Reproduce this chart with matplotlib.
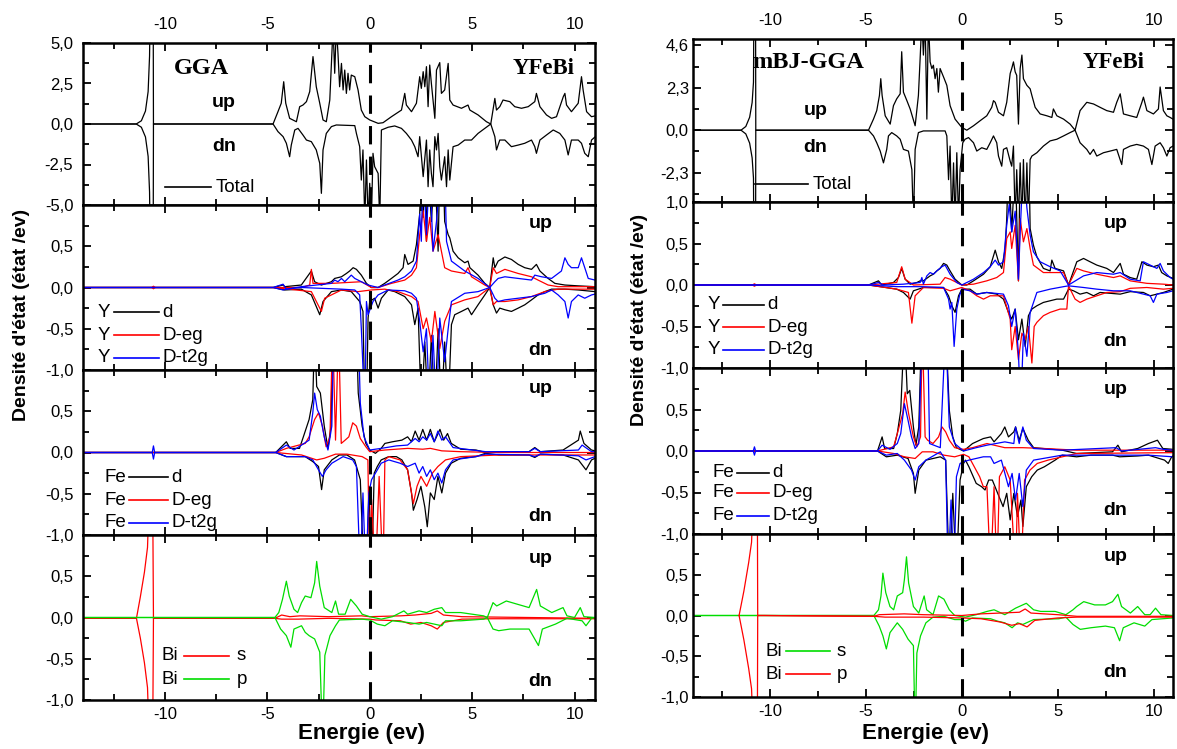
import numpy as np
import matplotlib.pyplot as plt
from matplotlib.ticker import FixedLocator, FuncFormatter

plt.rcParams['font.family'] = ['Liberation Sans', 'DejaVu Sans']
plt.rcParams['axes.unicode_minus'] = False

# ---------------- data : (energy in eV, DOS), spin down stored negative ----------------
# GGA total
gga_tot_up = [(-14, 0), (-11.4, 0), (-11.15, 0.2), (-10.95, 0.8), (-10.82, 2.0), (-10.75, 4.2), (-10.68, 12),
              (-10.58, 12), (-10.56, 0), (-4.72, 0), (-4.48, 0.76), (-4.32, 1.28), (-4.20, 2.61), (-4.10, 1.28),
              (-3.91, 0.35), (-3.58, 0.14), (-3.42, 1.07), (-3.26, 1.17), (-3.09, 1.38), (-2.93, 2.0), (-2.77, 4.16),
              (-2.61, 2.3), (-2.44, 1.28), (-2.28, 0.25), (-2.12, 0.14), (-1.95, 1.48), (-1.79, 6), (-1.71, 3.13),
              (-1.63, 6), (-1.55, 4.36), (-1.47, 2.3), (-1.38, 3.74), (-1.30, 2.1), (-1.22, 3.33), (-1.14, 1.89),
              (-1.06, 3.13), (-0.98, 2.1), (-0.90, 3.02), (-0.73, 2.92), (-0.57, 2.1), (-0.41, 0.86), (-0.24, 0.45),
              (0, 0.25), (0.41, 0.04), (0.65, 0.08), (1.06, 0.45), (1.55, 0.86), (1.71, 1.89), (1.79, 1.17),
              (2.04, 0.76), (2.28, 1.28), (2.44, 2.92), (2.52, 2.2), (2.61, 3.23), (2.69, 2.3), (2.77, 3.54),
              (2.85, 1.07), (2.93, 3.64), (3.01, 2.51), (3.18, 0.35), (3.26, 3.33), (3.42, 3.79), (3.50, 1.89),
              (3.66, 2.1), (3.83, 3.74), (3.91, 1.48), (4.07, 1.17), (4.48, 0.97), (4.80, 1.17), (4.89, 0.86),
              (5.29, 0.56), (5.70, 0.14), (5.91, 0.0), (6.11, 1.58), (6.19, 0.86), (6.35, 1.07), (6.51, 1.48),
              (6.84, 1.38), (7.08, 1.07), (7.41, 0.97), (7.74, 1.07), (8.06, 1.38), (8.14, 1.89), (8.31, 1.07),
              (8.63, 0.56), (8.88, 0.35), (9.12, 0.45), (9.45, 1.68), (9.53, 1.89), (9.61, 1.17), (9.85, 0.76),
              (10.18, 1.28), (10.34, 2.92), (10.42, 2.1), (10.59, 0.76), (10.83, 0.45), (11, 0.5)]
gga_tot_dn = [(-14, 0), (-11.4, 0), (-11.15, -0.2), (-10.95, -0.8), (-10.82, -2.0), (-10.75, -4.2), (-10.68, -12),
              (-10.58, -12), (-10.56, 0), (-4.72, 0), (-4.48, -0.47), (-4.23, -0.78), (-4.07, -1.19), (-3.91, -2.02),
              (-3.83, -1.3), (-3.66, -0.37), (-3.50, -0.27), (-3.26, -0.68), (-3.09, -0.99), (-2.85, -1.09),
              (-2.61, -1.6), (-2.44, -2.43), (-2.36, -4.28), (-2.28, -1.6), (-2.12, -0.58), (-1.87, -0.16),
              (-1.63, -0.06), (-0.73, -0.1), (-0.65, -0.58), (-0.49, -1.4), (-0.41, -3.46), (-0.33, -1.6),
              (-0.24, -6), (-0.16, -2.22), (-0.08, -6), (0, -3.66), (0.08, -6), (0.16, -1.81), (0.24, -2.63),
              (0.41, -3.05), (0.49, -6), (0.57, -0.37), (0.90, -0.2), (1.22, -0.12), (1.55, -0.27), (1.79, -0.58),
              (2.04, -0.99), (2.20, -1.4), (2.36, -2.02), (2.44, -0.78), (2.61, -3.25), (2.77, -0.99), (2.85, -3.87),
              (2.93, -1.6), (3.01, -3.05), (3.09, -3.87), (3.18, -0.78), (3.26, -1.6), (3.34, -0.58), (3.42, -2.63),
              (3.50, -3.46), (3.66, -2.02), (3.75, -3.87), (3.83, -1.6), (3.91, -3.46), (4.07, -1.4), (4.32, -1.3),
              (4.64, -0.99), (4.97, -0.99), (5.29, -0.58), (5.62, -0.27), (5.91, 0), (6.11, -0.78), (6.19, -1.6),
              (6.35, -0.99), (6.60, -0.99), (6.92, -1.4), (7.25, -1.3), (7.57, -1.19), (7.90, -0.99), (8.06, -1.4),
              (8.14, -1.81), (8.31, -0.99), (8.63, -0.68), (8.96, -0.37), (9.28, -0.58), (9.53, -0.99),
              (9.69, -1.91), (9.85, -0.99), (10.18, -0.99), (10.34, -1.19), (10.50, -1.81), (10.67, -2.02),
              (10.83, -0.99), (11, -0.8)]

# GGA Y
gga_y_d_up = [(-14, 0), (-4.72, 0), (-4.23, 0.03), (-4.15, 0.01), (-3.34, 0.03), (-2.85, 0.2), (-2.69, 0.07),
              (-2.36, 0.03), (-1.87, 0.07), (-1.71, 0.11), (-1.38, 0.13), (-1.14, 0.17), (-0.98, 0.2), (-0.81, 0.24),
              (-0.65, 0.22), (-0.41, 0.15), (-0.16, 0.05), (0.08, 0), (0.41, 0), (0.73, 0.05), (1.06, 0.11),
              (1.38, 0.17), (1.63, 0.24), (1.71, 0.4), (1.87, 0.28), (2.12, 0.32), (2.28, 0.52), (2.44, 0.89),
              (2.52, 1.5), (2.61, 0.85), (2.69, 1.5), (2.77, 0.56), (2.85, 1.5), (3.01, 0.8), (3.18, 1.5),
              (3.34, 0.44), (3.42, 1.5), (3.58, 1.5), (3.66, 0.8), (3.83, 0.64), (3.91, 0.6), (4.07, 0.44),
              (4.32, 0.36), (4.64, 0.3), (4.80, 0.32), (4.89, 0.24), (5.29, 0.15), (5.62, 0.05), (5.86, 0),
              (6.03, 0.36), (6.11, 0.24), (6.27, 0.32), (6.60, 0.37), (6.92, 0.34), (7.25, 0.28), (7.57, 0.24),
              (7.90, 0.22), (8.14, 0.28), (8.31, 0.2), (8.71, 0.11), (9.04, 0.05), (9.53, 0.03), (10.18, 0.02),
              (11, 0.01)]
gga_y_d_dn = [(-14, 0), (-4.72, 0), (-4.15, -0.03), (-3.34, -0.02), (-2.85, -0.09), (-2.44, -0.33), (-2.28, -0.17),
              (-1.87, -0.05), (-1.38, -0.03), (-0.90, -0.05), (-0.49, -0.17), (-0.33, -0.29), (-0.24, -1.5),
              (-0.16, -1.5), (-0.08, -0.37), (0, -0.17), (0.24, -0.13), (0.41, -0.25), (0.57, -0.13), (0.90, -0.03),
              (1.22, -0.05), (1.71, -0.11), (2.04, -0.21), (2.20, -0.45), (2.36, -0.25), (2.52, -1.5), (2.69, -0.66),
              (2.85, -1.5), (3.01, -0.58), (3.18, -1.5), (3.34, -0.5), (3.50, -1.5), (3.66, -0.66), (3.83, -1.5),
              (3.99, -0.45), (4.15, -0.33), (4.48, -0.29), (4.80, -0.25), (4.97, -0.33), (5.29, -0.21),
              (5.62, -0.09), (5.86, 0), (6.03, -0.21), (6.19, -0.31), (6.35, -0.25), (6.60, -0.27), (6.92, -0.29),
              (7.25, -0.25), (7.57, -0.21), (7.90, -0.15), (8.22, -0.09), (8.55, -0.05), (8.88, -0.02),
              (9.53, -0.02), (10.18, -0.03), (11, -0.05)]
gga_y_eg_up = [(-14, 0), (-10.65, 0), (-10.56, 0.015), (-10.47, 0), (-4.72, 0), (-3.34, 0), (-2.93, 0.03),
               (-2.85, 0.22), (-2.77, 0.05), (-1.87, 0.05), (-0.41, 0.07), (0.08, 0), (0.41, 0), (1.06, 0.05),
               (1.71, 0.09), (2.04, 0.15), (2.28, 0.24), (2.44, 0.64), (2.61, 0.93), (2.77, 0.56), (2.93, 0.85),
               (3.09, 0.44), (3.34, 0.64), (3.66, 0.24), (3.99, 0.2), (4.64, 0.17), (4.80, 0.24), (4.97, 0.13),
               (5.62, 0.03), (5.86, 0), (6.03, 0.24), (6.19, 0.17), (6.60, 0.22), (7.25, 0.17), (7.90, 0.13),
               (8.22, 0.09), (8.71, 0.03), (9.20, 0.01), (11, 0.01)]
gga_y_eg_dn = [(-14, 0), (-10.65, 0), (-10.56, -0.015), (-10.47, 0), (-4.72, 0), (-2.85, -0.05), (-2.36, -0.29),
               (-2.20, -0.13), (-1.38, -0.03), (-0.57, -0.05), (0.08, -0.03), (0.73, -0.02), (1.38, -0.05),
               (2.04, -0.11), (2.36, -0.17), (2.61, -0.5), (2.77, -0.37), (3.01, -0.66), (3.18, -0.29),
               (3.42, -0.74), (3.66, -0.41), (3.99, -0.21), (4.64, -0.15), (5.29, -0.11), (5.86, 0), (6.03, -0.21),
               (6.19, -0.17), (6.60, -0.17), (7.25, -0.15), (7.90, -0.11), (8.55, -0.05), (9.20, -0.02),
               (11, -0.02)]
gga_y_t2g_up = [(-14, 0), (-4.72, 0), (-4.23, 0.04), (-4.07, -0.02), (-3.34, 0.01), (-1.87, 0.05), (-1.71, 0.09),
                (-1.55, 0.07), (-1.38, 0.11), (-1.22, 0.07), (-1.06, 0.11), (-0.90, 0.15), (-0.73, 0.11),
                (-0.41, 0.07), (-0.08, 0.03), (0.41, 0), (0.73, 0.03), (1.38, 0.09), (1.71, 0.13), (2.04, 0.2),
                (2.28, 0.32), (2.44, 0.89), (2.52, 0.56), (2.61, 1.5), (2.77, 0.64), (2.93, 1.5), (3.09, 0.44),
                (3.26, 0.8), (3.50, 1.5), (3.66, 1.5), (3.75, 0.56), (3.99, 0.32), (4.64, 0.2), (5.29, 0.11),
                (5.86, 0), (6.11, 0.07), (6.27, 0.11), (6.60, 0.13), (7.25, 0.11), (7.90, 0.09), (8.06, 0.15),
                (8.39, 0.13), (8.88, 0.11), (9.36, 0.2), (9.53, 0.36), (9.69, 0.28), (9.85, 0.24), (10.18, 0.24),
                (10.34, 0.36), (10.50, 0.24), (10.67, 0.11), (11, 0.09)]
gga_y_t2g_dn = [(-14, 0), (-4.72, 0), (-4.23, -0.03), (-4.07, -0.02), (-3.34, 0), (-1.38, -0.02), (-0.73, -0.03),
                (-0.49, -0.09), (-0.41, -0.5), (-0.24, -1.5), (-0.16, -0.17), (-0.08, -0.33), (0.16, -0.17),
                (0.41, -0.09), (0.90, -0.03), (1.71, -0.04), (2.04, -0.07), (2.28, -0.13), (2.44, -0.41),
                (2.61, -0.78), (2.77, -0.5), (2.93, -1.5), (3.09, -0.58), (3.26, -1.5), (3.42, -0.37), (3.66, -0.9),
                (3.83, -0.5), (3.99, -0.17), (4.64, -0.07), (5.29, -0.05), (5.86, 0), (6.11, -0.13), (6.27, -0.17),
                (6.60, -0.15), (7.25, -0.13), (7.90, -0.11), (8.22, -0.09), (8.55, -0.07), (8.88, -0.03),
                (9.20, -0.09), (9.53, -0.17), (9.69, -0.37), (9.85, -0.17), (10.18, -0.09), (10.50, -0.13),
                (10.83, -0.09), (11, -0.08)]

# GGA Fe
gga_fe_d_up = [(-14, 0), (-4.59, 0), (-4.07, 0.13), (-3.89, 0.05), (-3.43, 0.05), (-3.24, 0.19), (-2.96, 0.4),
               (-2.78, 0.64), (-2.69, 1.5), (-2.59, 0.8), (-2.41, 0.72), (-2.22, 0.32), (-2.04, 0.05), (-1.89, 0.32),
               (-1.81, 1.5), (-0.65, 1.5), (-0.56, 0.72), (-0.37, 0.32), (-0.19, 0.11), (0, 0.03), (0.28, -0.01),
               (0.56, 0.05), (0.74, 0.11), (1.11, 0.13), (1.57, 0.15), (1.85, 0.19), (2.04, 0.13), (2.22, 0.26),
               (2.41, 0.15), (2.59, 0.28), (2.78, 0.15), (2.96, 0.28), (3.15, 0.13), (3.43, 0.28), (3.61, 0.15),
               (3.80, 0.23), (3.98, 0.11), (4.44, 0.04), (5.19, 0.03), (5.65, 0), (6.30, 0.01), (7.78, 0.01),
               (8.06, 0.06), (8.33, 0.01), (9.44, 0.03), (10.19, 0.15), (10.28, 0.26), (10.46, 0.11), (10.83, 0.03),
               (11, 0.02)]
gga_fe_d_dn = [(-14, 0), (-4.59, 0), (-4.07, -0.05), (-3.15, -0.05), (-2.78, -0.11), (-2.50, -0.17), (-2.35, -0.45),
               (-2.22, -0.21), (-1.85, -0.09), (-1.48, -0.03), (-1.11, -0.03), (-0.74, -0.09), (-0.46, -0.33),
               (-0.28, -1.5), (-0.15, -1.5), (-0.04, -0.41), (0.09, -1.5), (0.22, -0.25), (0.37, -0.17),
               (0.56, -0.09), (0.93, -0.05), (1.30, -0.05), (1.57, -0.09), (1.85, -0.21), (2.04, -0.49),
               (2.13, -0.7), (2.31, -0.57), (2.50, -0.41), (2.69, -0.66), (2.81, -0.9), (2.96, -0.49), (3.15, -0.57),
               (3.33, -0.29), (3.52, -0.49), (3.70, -0.25), (3.98, -0.13), (4.44, -0.07), (5.19, -0.05),
               (5.65, -0.01), (6.30, -0.03), (7.78, -0.03), (8.06, -0.06), (8.33, -0.02), (9.44, -0.03),
               (10.19, -0.09), (10.56, -0.21), (10.83, -0.09), (11, -0.07)]
gga_fe_eg_up = [(-14, 0), (-4.59, 0), (-4.07, 0.05), (-3.15, 0.11), (-2.96, 0.19), (-2.69, 0.4), (-2.50, 0.48),
                (-2.31, 0.32), (-2.13, 0.07), (-1.94, 0.19), (-1.81, 1.5), (-1.67, 0.15), (-1.52, 1.5), (-1.39, 0.11),
                (-1.20, 0.15), (-1.02, 0.19), (-0.83, 0.36), (-0.65, 0.32), (-0.46, 0.17), (-0.19, 0.07), (0, 0.01),
                (0.74, 0.03), (1.85, 0.05), (2.59, 0.04), (2.96, 0.05), (3.52, 0.02), (4.44, 0.01), (6.30, 0),
                (11, 0)]
gga_fe_eg_dn = [(-14, 0), (-4.59, 0), (-3.33, -0.03), (-2.59, -0.09), (-2.22, -0.07), (-1.67, -0.02), (-1.11, -0.02),
                (-0.37, -0.05), (-0.09, -0.09), (0, -1.5), (0.09, -0.57), (0.28, -1.5), (0.46, -0.29), (0.65, -1.5),
                (0.74, -0.09), (0.93, -0.05), (1.48, -0.09), (1.85, -0.21), (2.04, -0.49), (2.13, -0.62),
                (2.31, -0.41), (2.50, -0.29), (2.78, -0.41), (3.06, -0.25), (3.33, -0.17), (3.70, -0.09),
                (4.44, -0.05), (6.30, -0.03), (11, -0.03)]
gga_fe_t2g_up = [(-14, 0), (-10.62, 0), (-10.56, 0.08), (-10.5, 0), (-4.59, 0), (-4.07, 0.09), (-3.70, 0.03),
                 (-2.96, 0.15), (-2.78, 0.48), (-2.69, 0.72), (-2.56, 0.52), (-2.41, 0.44), (-2.22, 0.19),
                 (-2.04, 0.03), (-1.85, 0.32), (-1.76, 1.5), (-0.56, 1.5), (-0.46, 0.6), (-0.28, 0.19), (0, 0.03),
                 (0.56, 0.05), (1.30, 0.08), (1.85, 0.09), (2.22, 0.17), (2.41, 0.13), (2.59, 0.19), (2.78, 0.15),
                 (2.96, 0.23), (3.15, 0.13), (3.33, 0.26), (3.52, 0.15), (3.70, 0.19), (4.07, 0.06), (5.65, 0.01),
                 (7.78, 0.01), (8.06, 0.05), (8.33, 0.01), (10.19, 0.03), (10.37, 0.09), (10.83, 0.01), (11, 0.01)]
gga_fe_t2g_dn = [(-14, 0), (-10.62, 0), (-10.56, -0.08), (-10.5, 0), (-4.59, 0), (-4.07, -0.05), (-3.15, -0.05),
                 (-2.78, -0.09), (-2.50, -0.21), (-2.31, -0.29), (-2.13, -0.21), (-1.85, -0.13), (-1.30, -0.05),
                 (-0.83, -0.09), (-0.65, -0.17), (-0.46, -1.5), (-0.33, -0.49), (-0.19, -1.5), (-0.04, -0.49),
                 (0.09, -0.33), (0.28, -0.25), (0.56, -0.13), (0.93, -0.09), (1.48, -0.13), (1.85, -0.17),
                 (2.22, -0.13), (2.41, -0.25), (2.59, -0.17), (2.78, -0.29), (2.96, -0.21), (3.15, -0.33),
                 (3.33, -0.25), (3.52, -0.37), (3.70, -0.21), (4.07, -0.09), (5.19, -0.05), (5.65, -0.02),
                 (7.78, -0.03), (8.06, -0.05), (8.33, -0.02), (10.19, -0.04), (10.56, -0.09), (11, -0.05)]

# GGA Bi
gga_bi_s_up = [(-14, -0.01), (-11.39, -0.01), (-11.2, 0.25), (-11.0, 0.55), (-10.85, 0.85), (-10.75, 1.6),
               (-10.6, 1.6), (-10.56, -0.01), (-4.63, -0.01), (-4.3, 0.03), (-3.9, 0.01), (-3.4, 0.02), (-2.0, 0.01),
               (-0.4, 0.02), (0, 0.01), (1.5, 0.02), (2.2, 0.03), (3.0, 0.05), (3.3, 0.08), (3.6, 0.03), (4.5, 0.01),
               (11, -0.01)]
gga_bi_s_dn = [(-14, -0.01), (-11.39, -0.01), (-11.2, -0.25), (-11.0, -0.55), (-10.85, -0.85), (-10.75, -1.6),
               (-10.6, -1.6), (-10.56, -0.01), (-4.63, -0.01), (-4.3, -0.02), (-3.5, -0.02), (-2.0, -0.01),
               (0, -0.02), (0.3, -0.03), (1.5, -0.04), (2.0, -0.08), (2.5, -0.06), (3.0, -0.1), (3.3, -0.14),
               (3.6, -0.06), (4.5, -0.02), (6, -0.015), (11, -0.015)]
gga_bi_p_up = [(-14, 0), (-4.63, 0), (-4.44, 0.06), (-4.26, 0.22), (-4.07, 0.44), (-3.93, 0.26), (-3.70, 0.1),
               (-3.52, 0.06), (-3.33, 0.18), (-3.15, 0.26), (-2.87, 0.24), (-2.69, 0.42), (-2.59, 0.68),
               (-2.44, 0.38), (-2.22, 0.12), (-1.85, 0.06), (-1.67, 0.2), (-1.52, 0.04), (-1.20, 0.04),
               (-0.93, 0.22), (-0.65, 0.14), (-0.37, 0.04), (0, 0.01), (0.56, -0.02), (1.11, 0.01), (1.67, 0.08),
               (1.85, 0.04), (2.41, 0.08), (2.78, 0.06), (3.15, 0.1), (3.52, 0.12), (3.70, 0.06), (4.44, 0.06),
               (5.56, 0.02), (5.74, 0), (6.02, 0.18), (6.20, 0.14), (6.67, 0.2), (7.22, 0.16), (7.78, 0.12),
               (8.15, 0.34), (8.33, 0.14), (8.89, 0.06), (9.44, 0.12), (9.63, 0.02), (10.0, 0), (10.28, 0.12),
               (10.46, 0.01), (11, 0)]
gga_bi_p_dn = [(-14, 0), (-4.63, 0), (-4.35, -0.14), (-4.07, -0.22), (-3.85, -0.36), (-3.70, -0.14), (-3.33, -0.1),
               (-3.15, -0.18), (-2.96, -0.22), (-2.69, -0.26), (-2.44, -0.42), (-2.30, -1.5), (-2.19, -0.46),
               (-1.94, -0.22), (-1.67, -0.1), (-1.48, -0.03), (-0.37, -0.02), (0, -0.03), (0.37, -0.08),
               (0.74, -0.1), (1.11, -0.04), (1.85, -0.06), (2.41, -0.08), (2.78, -0.06), (3.52, -0.1),
               (3.70, -0.04), (4.44, -0.04), (5.56, -0.02), (5.74, 0), (6.02, -0.14), (6.30, -0.16), (6.85, -0.14),
               (7.78, -0.14), (8.24, -0.34), (8.43, -0.14), (9.07, -0.08), (9.63, -0.01), (10.37, -0.04),
               (10.56, -0.1), (10.83, -0.01), (11, 0)]

# mBJ-GGA total
mbj_tot_up = [(-14, 0), (-11.5, 0), (-11.25, 0.2), (-11.05, 0.7), (-10.92, 1.5), (-10.85, 2.6), (-10.8, 12),
              (-10.75, 12), (-10.73, 0), (-4.86, 0), (-4.60, 0.6), (-4.43, 1.06), (-4.29, 1.88), (-4.22, 2.79),
              (-4.15, 1.88), (-3.99, 0.78), (-3.73, 0.33), (-3.56, 1.33), (-3.39, 1.7), (-3.21, 1.97), (-3.13, 4.25),
              (-3.04, 2.06), (-2.86, 1.6), (-2.69, 1.15), (-2.43, 0.24), (-2.26, 1.88), (-2.17, 3.89), (-2.08, 6),
              (-2.0, 4.07), (-1.91, 6), (-1.82, 0.6), (-1.74, 6), (-1.65, 3.7), (-1.56, 3.34), (-1.48, 3.52),
              (-1.39, 2.79), (-1.30, 3.34), (-1.22, 2.06), (-1.13, 3.34), (-0.95, 2.88), (-0.78, 2.43),
              (-0.61, 1.33), (-0.35, 0.6), (0, 0.15), (0.26, 0.0), (0.61, 0.24), (0.95, 0.51), (1.30, 0.78),
              (1.56, 1.24), (1.65, 1.6), (1.74, 1.51), (1.91, 0.97), (2.17, 0.78), (2.34, 1.51), (2.52, 3.07),
              (2.60, 3.34), (2.69, 3.7), (2.78, 3.16), (2.86, 2.97), (2.95, 0.33), (3.04, 3.34), (3.13, 4.07),
              (3.21, 2.79), (3.39, 2.43), (3.56, 2.24), (3.65, 1.88), (3.82, 1.24), (4.08, 0.88), (4.43, 0.78),
              (4.69, 0.69), (4.77, 1.15), (4.95, 0.78), (5.30, 0.6), (5.64, 0.33), (5.90, 0), (6.16, 1.06),
              (6.51, 1.51), (6.86, 1.42), (7.20, 1.24), (7.55, 1.06), (7.90, 0.97), (8.07, 1.51), (8.25, 1.97),
              (8.42, 0.88), (8.77, 0.78), (9.11, 0.69), (9.38, 1.51), (9.46, 1.79), (9.64, 1.06), (9.98, 0.88),
              (10.24, 1.15), (10.33, 2.34), (10.50, 1.06), (10.68, 0.78), (10.85, 0.69), (11, 0.6)]
mbj_tot_dn = [(-14, 0), (-11.5, 0), (-11.25, -0.2), (-11.05, -0.7), (-10.92, -1.5), (-10.85, -2.6), (-10.8, -12),
              (-10.75, -12), (-10.73, 0), (-4.86, 0), (-4.60, -0.31), (-4.43, -0.68), (-4.25, -1.13), (-4.08, -1.77),
              (-3.91, -1.04), (-3.82, -0.31), (-3.65, -0.13), (-3.39, -0.31), (-3.21, -0.49), (-3.04, -1.04),
              (-2.78, -1.13), (-2.60, -2.14), (-2.52, -5), (-2.43, -1.04), (-2.26, -0.13), (-2.0, -0.04),
              (-0.87, -0.04), (-0.78, -0.31), (-0.69, -2.68), (-0.61, -0.86), (-0.52, -5), (-0.43, -1.77),
              (-0.35, -5), (-0.26, -1.22), (-0.17, -5), (-0.09, -2.14), (0.05, -0.68), (0.17, -0.49), (0.35, -0.4),
              (0.61, -0.68), (0.78, -1.13), (1.04, -0.95), (1.30, -1.04), (1.48, -0.68), (1.65, -0.31),
              (1.82, -0.68), (1.91, -1.4), (2.08, -1.95), (2.17, -1.04), (2.34, -0.95), (2.52, -1.68), (2.60, -1.95),
              (2.69, -0.86), (2.78, -5), (2.86, -2.14), (2.95, -5), (3.04, -1.77), (3.13, -5), (3.21, -1.59),
              (3.30, -5), (3.39, -1.77), (3.47, -5), (3.56, -1.59), (3.65, -1.4), (3.91, -1.22), (4.25, -0.86),
              (4.60, -0.58), (4.95, -0.49), (5.30, -0.31), (5.64, -0.13), (5.90, 0.0), (6.16, -0.68), (6.51, -1.04),
              (6.68, -1.31), (6.86, -1.04), (7.03, -1.4), (7.38, -1.22), (7.73, -1.13), (8.07, -1.04),
              (8.33, -1.86), (8.42, -1.04), (8.77, -0.86), (9.11, -0.77), (9.46, -0.86), (9.72, -1.04),
              (9.90, -1.86), (10.07, -0.86), (10.33, -0.68), (10.50, -0.95), (10.68, -1.4), (10.85, -0.95),
              (11, -0.86)]

# mBJ-GGA Y
mbj_y_d_up = [(-14, 0), (-4.86, 0), (-4.34, 0.05), (-4.17, 0), (-3.56, 0.03), (-3.30, 0.09), (-3.13, 0.2),
              (-2.95, 0.07), (-2.69, 0.01), (-2.34, 0.03), (-2.17, 0.05), (-2.0, 0.05), (-1.65, 0.11), (-1.48, 0.13),
              (-1.30, 0.17), (-1.13, 0.2), (-0.95, 0.26), (-0.78, 0.24), (-0.61, 0.17), (-0.35, 0.07), (0, 0),
              (0.26, 0), (0.61, 0.05), (1.13, 0.13), (1.48, 0.22), (1.74, 0.42), (1.91, 0.28), (2.08, 0.2),
              (2.26, 0.44), (2.34, 0.8), (2.43, 1.5), (2.60, 0.64), (2.78, 1.5), (2.95, 0.05), (3.04, 1.5),
              (3.50, 1.5), (3.56, 0.68), (3.73, 0.48), (3.91, 0.34), (4.25, 0.2), (4.60, 0.17), (4.69, 0.3),
              (4.86, 0.2), (5.30, 0.17), (5.56, 0), (5.99, 0.28), (6.34, 0.32), (6.68, 0.28), (7.03, 0.24),
              (7.55, 0.2), (7.90, 0.15), (8.25, 0.26), (8.42, 0.13), (8.77, 0.09), (9.11, 0.07), (9.38, 0.28),
              (9.64, 0.24), (9.98, 0.22), (10.24, 0.24), (10.41, 0.15), (10.68, 0.11), (11, 0.08)]
mbj_y_d_dn = [(-14, 0), (-4.86, 0), (-4.25, -0.02), (-3.39, -0.05), (-3.04, -0.09), (-2.69, -0.17), (-2.52, -0.07),
              (-2.0, -0.03), (-0.95, -0.03), (-0.69, -0.13), (-0.52, -0.25), (-0.35, -0.33), (-0.17, -0.13),
              (0, -0.05), (0.43, -0.05), (0.78, -0.11), (1.30, -0.09), (1.82, -0.11), (2.17, -0.17), (2.43, -0.33),
              (2.60, -0.41), (2.78, -0.29), (2.95, -0.66), (3.13, -0.41), (3.30, -0.74), (3.47, -0.37),
              (3.65, -0.29), (3.91, -0.25), (4.25, -0.21), (4.60, -0.19), (4.95, -0.17), (5.30, -0.17),
              (5.56, -0.05), (5.82, -0.07), (6.16, -0.11), (6.51, -0.09), (6.86, -0.13), (7.20, -0.09),
              (7.73, -0.1), (8.25, -0.11), (8.77, -0.08), (9.46, -0.09), (9.81, -0.13), (10.16, -0.11),
              (10.50, -0.09), (11, -0.05)]
mbj_y_eg_up = [(-14, 0), (-10.9, 0), (-10.8, 0.015), (-10.7, 0), (-4.86, 0), (-3.39, 0.03), (-3.13, 0.22),
               (-2.95, 0.07), (-2.52, 0), (-1.13, 0.01), (-0.87, 0.09), (-0.61, 0.07), (-0.26, 0.03), (0, 0),
               (0.61, 0.01), (1.30, 0.05), (1.82, 0.09), (2.17, 0.15), (2.34, 0.56), (2.52, 0.64), (2.60, 0.44),
               (2.78, 0.72), (2.95, 0.05), (3.04, 0.8), (3.21, 0.52), (3.39, 0.68), (3.56, 0.44), (3.73, 0.24),
               (4.25, 0.15), (4.60, 0.15), (5.30, 0.15), (5.56, 0), (5.99, 0.2), (6.34, 0.17), (7.03, 0.13),
               (7.90, 0.09), (8.25, 0.11), (8.77, 0.05), (9.64, 0.02), (10.50, 0.01), (11, 0)]
mbj_y_eg_dn = [(-14, 0), (-10.9, 0), (-10.8, -0.015), (-10.7, 0), (-4.86, 0), (-3.39, -0.05), (-2.78, -0.09),
               (-2.60, -0.46), (-2.43, -0.13), (-2.0, -0.03), (-0.95, -0.04), (-0.61, -0.07), (0, -0.03),
               (0.43, -0.07), (0.78, -0.13), (1.13, -0.17), (1.48, -0.13), (2.17, -0.13), (2.52, -0.41),
               (2.60, -0.78), (2.78, -0.5), (2.95, -0.9), (3.13, -0.58), (3.30, -0.66), (3.47, -0.5), (3.65, -0.94),
               (3.77, -0.5), (3.91, -0.45), (4.25, -0.37), (4.60, -0.33), (5.12, -0.29), (5.47, -0.29),
               (5.56, -0.01), (5.90, -0.17), (6.16, -0.21), (6.51, -0.17), (7.03, -0.13), (7.55, -0.09),
               (8.25, -0.08), (8.77, -0.04), (9.64, -0.03), (10.50, -0.05), (11, -0.04)]
mbj_y_t2g_up = [(-14, 0), (-4.86, 0), (-4.34, 0.03), (-4.08, 0), (-3.04, 0.01), (-2.17, 0.03), (-2.08, 0.09),
                (-2.0, 0.01), (-1.82, 0.11), (-1.65, 0.15), (-1.48, 0.13), (-1.30, 0.17), (-1.04, 0.22),
                (-0.87, 0.24), (-0.61, 0.13), (-0.26, 0.03), (0, 0), (0.61, 0.07), (1.13, 0.15), (1.48, 0.22),
                (1.74, 0.3), (1.91, 0.24), (2.17, 0.28), (2.34, 0.72), (2.47, 0.97), (2.60, 0.64), (2.78, 0.89),
                (2.95, 0.07), (3.04, 0.64), (3.21, 1.5), (3.39, 0.93), (3.56, 0.6), (3.73, 0.4), (4.08, 0.28),
                (4.60, 0.22), (5.12, 0.17), (5.56, 0), (6.34, 0.11), (7.03, 0.15), (7.90, 0.13), (8.25, 0.15),
                (8.77, 0.07), (9.29, 0.05), (9.46, 0.28), (9.81, 0.24), (10.16, 0.2), (10.33, 0.26), (10.50, 0.17),
                (10.85, 0.09), (11, 0.07)]
mbj_y_t2g_dn = [(-14, 0), (-4.86, 0), (-3.39, -0.02), (-2.08, -0.02), (-0.95, -0.03), (-0.69, -0.17),
                (-0.61, -0.29), (-0.52, -0.21), (-0.40, -0.74), (-0.26, -0.29), (-0.12, -0.13), (0, -0.05),
                (0.43, -0.07), (0.78, -0.11), (1.30, -0.09), (2.17, -0.11), (2.43, -0.25), (2.60, -0.5),
                (2.78, -0.29), (2.95, -0.83), (3.07, -1.5), (3.21, -0.58), (3.39, -0.86), (3.56, -0.33),
                (3.91, -0.09), (4.60, -0.05), (5.30, -0.02), (5.56, -0.01), (6.34, -0.03), (7.03, -0.05),
                (7.90, -0.07), (8.77, -0.07), (9.81, -0.13), (9.98, -0.21), (10.16, -0.11), (10.68, -0.09),
                (11, -0.07)]

# mBJ-GGA Fe
mbj_fe_d_up = [(-14, 0), (-4.39, 0), (-4.15, 0.17), (-4.02, 0.03), (-3.55, 0.03), (-3.36, 0.21), (-3.18, 0.49),
               (-2.99, 1.5), (-2.84, 0.69), (-2.71, 0.73), (-2.52, 0.29), (-2.39, 0.07), (-2.24, 0.29),
               (-2.09, 1.5), (-0.84, 1.5), (-0.65, 0.49), (-0.47, 0.17), (-0.28, 0.04), (0.09, 0), (0.56, 0.09),
               (1.12, 0.15), (1.50, 0.17), (1.68, 0.11), (2.06, 0.21), (2.24, 0.29), (2.43, 0.17), (2.71, 0.23),
               (2.80, 0.29), (2.99, 0.13), (3.18, 0.27), (3.46, 0.13), (3.74, 0.04), (5.23, 0.01), (5.98, -0.03),
               (7.85, -0.01), (8.13, 0.07), (8.32, -0.01), (9.16, 0.03), (9.72, 0.09), (10.19, 0.13),
               (10.47, 0.03), (11, 0.02)]
mbj_fe_d_dn = [(-14, 0), (-4.39, 0), (-3.93, -0.07), (-3.36, -0.05), (-2.80, -0.09), (-2.52, -0.27), (-2.43, -0.51),
               (-2.24, -0.23), (-1.87, -0.11), (-1.12, -0.07), (-0.84, -0.11), (-0.65, -1.5), (-0.47, -0.51),
               (-0.28, -1.5), (-0.09, -0.35), (0.09, -0.15), (0.19, -0.11), (0.37, -0.19), (0.75, -0.39),
               (1.03, -0.43), (1.21, -0.47), (1.40, -0.35), (1.59, -0.35), (1.87, -0.51), (2.15, -0.67),
               (2.34, -0.51), (2.52, -0.83), (2.71, -0.51), (2.90, -0.79), (3.08, -0.59), (3.18, -0.91),
               (3.36, -0.43), (3.64, -0.31), (3.93, -0.23), (4.30, -0.19), (4.86, -0.11), (5.23, -0.05),
               (5.98, -0.07), (6.73, -0.05), (7.85, -0.05), (8.22, -0.07), (9.16, -0.06), (9.72, -0.05),
               (10.56, -0.11), (10.75, -0.15), (10.93, -0.07), (11, -0.06)]
mbj_fe_eg_up = [(-14, 0), (-4.39, 0), (-3.55, 0.05), (-3.36, 0.21), (-3.08, 0.45), (-2.95, 0.71), (-2.77, 0.45),
                (-2.52, 0.17), (-2.34, 0.05), (-2.15, 0.17), (-2.06, 1.5), (-1.91, 0.17), (-1.78, 0.13),
                (-1.50, 0.09), (-1.21, 0.17), (-1.03, 0.29), (-0.84, 0.23), (-0.65, 0.13), (-0.37, 0.04),
                (0.09, 0.02), (0.56, 0.04), (1.31, 0.09), (2.24, 0.04), (3.18, 0.04), (4.30, 0.03), (5.98, 0.01),
                (11, 0.01)]
mbj_fe_eg_dn = [(-14, 0), (-4.39, 0), (-3.55, -0.03), (-2.99, -0.07), (-2.43, -0.09), (-2.06, -0.01), (-1.50, -0.01),
                (-0.93, -0.05), (-0.37, -0.07), (0.09, -0.04), (0.37, -0.07), (0.65, -0.19), (0.93, -0.31),
                (1.12, -0.43), (1.31, -0.43), (1.50, -1.5), (1.68, -0.43), (1.83, -1.5), (1.96, -0.31),
                (2.24, -0.19), (2.52, -0.35), (2.80, -1.5), (2.90, -0.51), (3.08, -1.5), (3.27, -0.35),
                (3.55, -0.23), (3.93, -0.15), (4.49, -0.11), (5.23, -0.07), (5.98, -0.03), (11, -0.02)]
mbj_fe_t2g_up = [(-14, 0), (-10.86, 0), (-10.8, 0.05), (-10.74, 0), (-4.39, 0), (-4.15, 0.07), (-3.74, 0.02),
                 (-3.36, 0.09), (-3.18, 0.21), (-2.99, 0.57), (-2.80, 0.37), (-2.62, 0.17), (-2.43, 0.03),
                 (-2.24, 0.09), (-2.06, 1.5), (-1.78, 1.5), (-1.68, 0.09), (-1.12, 0.04), (-0.84, 1.5),
                 (-0.65, 0.29), (-0.37, 0.09), (0.09, 0), (0.75, 0.04), (1.31, 0.07), (2.24, 0.11), (2.71, 0.09),
                 (2.80, 0.29), (2.99, 0.09), (3.18, 0.29), (3.36, 0.13), (3.74, 0.03), (5.23, 0.01), (8.04, 0.04),
                 (8.32, 0), (10.09, 0.04), (10.5, 0.02), (11, 0.01)]
mbj_fe_t2g_dn = [(-14, 0), (-10.86, 0), (-10.8, -0.05), (-10.74, 0), (-4.39, 0), (-3.93, -0.05), (-3.36, -0.03),
                 (-2.99, -0.11), (-2.62, -0.23), (-2.43, -0.35), (-2.24, -0.19), (-1.87, -0.11), (-1.12, -0.01),
                 (-0.84, -0.11), (-0.71, -1.5), (-0.56, -0.59), (-0.41, -1.5), (-0.28, -0.31), (-0.09, -0.15),
                 (0.09, -0.13), (0.37, -0.11), (1.12, -0.07), (1.50, -0.07), (1.68, -0.15), (2.06, -0.11),
                 (2.43, -0.43), (2.62, -0.27), (2.80, -0.59), (2.99, -0.27), (3.18, -0.67), (3.36, -0.23),
                 (3.74, -0.11), (5.23, -0.05), (8.22, -0.05), (9.72, -0.05), (11, -0.07)]

# mBJ-GGA Bi (legend: s green, p red)
mbj_bi_s_up = [(-14, 0), (-4.58, 0), (-4.34, 0.07), (-4.21, 0.24), (-4.11, 0.52), (-3.96, 0.28), (-3.74, 0.11),
               (-3.55, 0.07), (-3.36, 0.24), (-3.08, 0.28), (-2.99, 0.44), (-2.88, 0.72), (-2.77, 0.4),
               (-2.52, 0.11), (-2.24, 0.03), (-1.96, 0.24), (-1.83, 0.07), (-1.50, 0.01), (-1.21, 0.24),
               (-0.93, 0.2), (-0.65, 0.07), (-0.37, 0), (0.19, -0.02), (0.75, 0.01), (1.31, 0.05), (1.68, 0.07),
               (2.24, 0.01), (2.80, 0.09), (3.36, 0.15), (3.74, 0.07), (4.11, 0.05), (4.86, 0.05), (5.42, 0.01),
               (5.79, 0.07), (5.98, 0.11), (6.35, 0.17), (6.92, 0.13), (7.48, 0.13), (7.85, 0.17), (8.13, 0.26),
               (8.32, 0.11), (8.78, 0.03), (9.16, 0.11), (9.53, 0.01), (9.81, 0.01), (10.09, 0.09), (10.37, 0.01),
               (11, 0)]
mbj_bi_s_dn = [(-14, 0), (-4.58, 0), (-4.30, -0.13), (-4.11, -0.25), (-3.93, -0.41), (-3.74, -0.21), (-3.36, -0.09),
               (-3.08, -0.17), (-2.80, -0.29), (-2.52, -0.37), (-2.43, -1.5), (-2.34, -0.46), (-2.15, -0.25),
               (-1.87, -0.09), (-1.50, -0.02), (-0.93, -0.01), (-0.37, -0.05), (0, -0.05), (0.19, -0.07),
               (0.56, -0.03), (1.50, -0.04), (1.87, -0.07), (2.24, -0.09), (2.62, -0.15), (2.90, -0.09),
               (3.18, -0.11), (3.74, -0.05), (5.05, -0.04), (5.42, -0.02), (5.79, -0.11), (6.17, -0.17),
               (6.73, -0.15), (7.48, -0.13), (7.95, -0.15), (8.22, -0.31), (8.41, -0.15), (8.97, -0.09),
               (9.53, -0.13), (9.90, -0.05), (11, -0.03)]
mbj_bi_p_up = [(-11.6, 0), (-11.35, 0.3), (-11.1, 0.65), (-10.95, 0.9), (-10.84, 1.6), (-10.65, 1.6), (-10.63, 0),
               (-10.3, 0), (-4.58, -0.01), (-4.3, 0.01), (-3.0, 0.02), (-2.0, 0.01), (0, 0.0), (1.0, 0.02),
               (2.0, 0.03), (3.0, 0.04), (3.3, 0.08), (3.6, 0.03), (5.0, 0.01), (6.0, -0.01), (11, -0.01)]
mbj_bi_p_dn = [(-11.6, 0), (-11.35, -0.3), (-11.1, -0.65), (-10.95, -0.9), (-10.84, -1.6), (-10.65, -1.6),
               (-10.63, 0), (-10.3, 0), (-4.58, -0.01), (-4.0, -0.02), (-2.0, -0.02), (0, -0.03), (1.0, -0.04),
               (2.0, -0.08), (2.6, -0.12), (3.0, -0.1), (3.4, -0.14), (3.8, -0.06), (5.0, -0.03), (6.0, -0.02),
               (11, -0.02)]

# ---------------- figure ----------------
fig = plt.figure(figsize=(11.77, 7.49), dpi=100)
W, H = 1177.0, 749.0


def make_axes(x0, x1, y0, y1):
    return fig.add_axes([x0 / W, 1 - y1 / H, (x1 - x0) / W, (y1 - y0) / H])


def style(ax, ylim, yticks, yminor, ypad, top_labels=False, bottom_labels=False, hide_top=False):
    ax.set_xlim(-14, 11)
    ax.set_ylim(*ylim)
    ax.xaxis.set_major_locator(FixedLocator([-10, -5, 0, 5, 10]))
    ax.xaxis.set_minor_locator(FixedLocator([-12.5, -7.5, -2.5, 2.5, 7.5]))
    ax.yaxis.set_major_locator(FixedLocator(yticks))
    ax.yaxis.set_minor_locator(FixedLocator(yminor))

    def comma(v, pos):
        # the top label of a stacked panel sits under the label of the panel above
        if hide_top and abs(v - ylim[1]) < 1e-6:
            return ''
        return f"{v:.1f}".replace('.', ',')

    ax.yaxis.set_major_formatter(FuncFormatter(comma))
    ax.xaxis.set_major_formatter(FuncFormatter(lambda v, p: f"{v:.0f}"))
    ax.tick_params(which='both', direction='in', top=True, right=True, width=1.3, labelsize=12,
                   labeltop=top_labels, labelbottom=bottom_labels)
    ax.tick_params(axis='y', pad=ypad)
    ax.tick_params(axis='x', pad=8 if top_labels else 5)
    ax.tick_params(which='major', length=5.5)
    ax.tick_params(which='minor', length=4.5)
    for sp in ax.spines.values():
        sp.set_linewidth(1.8)
    ax.axvline(0, color='black', lw=2.2, ls=(0, (6, 4)), zorder=5)


def draw(ax, curve, color):
    arr = np.array(curve, dtype=float)
    ax.plot(arr[:, 0], arr[:, 1], color=color, lw=0.9)


def legend_row(ax, x_pref, y, prefix, label, color, x_line0, x_line1, x_lab, size=13.5):
    ax.text(x_pref, y, prefix, transform=ax.transAxes, ha='center', va='center', fontsize=size)
    ax.plot([x_line0, x_line1], [y, y], transform=ax.transAxes, color=color, lw=1.2)
    ax.text(x_lab, y, label, transform=ax.transAxes, ha='left', va='center', fontsize=size)


def updn(ax, xu, yu, xd, yd):
    ax.text(xu, yu, 'up', transform=ax.transAxes, ha='center', va='center', fontsize=14, fontweight='bold')
    ax.text(xd, yd, 'dn', transform=ax.transAxes, ha='center', va='center', fontsize=14, fontweight='bold')


BLACK, RED, BLUE, GREEN = 'black', '#ff0000', '#0000ff', '#00dd00'
pdos_ticks = [-1, -0.5, 0, 0.5, 1]
pdos_minor = [-0.75, -0.25, 0.25, 0.75]
serif = ['Liberation Serif', 'DejaVu Serif']

# ---------- left column : GGA ----------
L = [make_axes(83, 595, 43, 205), make_axes(83, 595, 205, 370),
     make_axes(83, 595, 370, 535), make_axes(83, 595, 535, 700)]

ax = L[0]
style(ax, (-5, 5), [-5, -2.5, 0, 2.5, 5], [-3.75, -1.25, 1.25, 3.75], 7, top_labels=True)
draw(ax, gga_tot_up, BLACK)
draw(ax, gga_tot_dn, BLACK)
ax.plot([0.16, 0.25], [0.11, 0.11], transform=ax.transAxes, color=BLACK, lw=1.2)
ax.text(0.26, 0.11, 'Total', transform=ax.transAxes, va='center', fontsize=13.5)
ax.text(0.178, 0.845, 'GGA', transform=ax.transAxes, va='center', fontsize=17.5, fontweight='bold', family=serif)
ax.text(0.96, 0.845, 'YFeBi', transform=ax.transAxes, va='center', ha='right', fontsize=16.5,
        fontweight='bold', family=serif)
updn(ax, 0.275, 0.63, 0.275, 0.36)

ax = L[1]
style(ax, (-1, 1), pdos_ticks, pdos_minor, 7, hide_top=True)
draw(ax, gga_y_d_up, BLACK)
draw(ax, gga_y_d_dn, BLACK)
draw(ax, gga_y_eg_up, RED)
draw(ax, gga_y_eg_dn, RED)
draw(ax, gga_y_t2g_up, BLUE)
draw(ax, gga_y_t2g_dn, BLUE)
for yy, lab, col in [(0.35, 'd', BLACK), (0.21, 'D-eg', RED), (0.073, 'D-t2g', BLUE)]:
    legend_row(ax, 0.041, yy, 'Y', lab, col, 0.06, 0.148, 0.155)
updn(ax, 0.893, 0.89, 0.893, 0.12)

ax = L[2]
style(ax, (-1, 1), pdos_ticks, pdos_minor, 7, hide_top=True)
draw(ax, gga_fe_d_up, BLACK)
draw(ax, gga_fe_d_dn, BLACK)
draw(ax, gga_fe_eg_up, RED)
draw(ax, gga_fe_eg_dn, RED)
draw(ax, gga_fe_t2g_up, BLUE)
draw(ax, gga_fe_t2g_dn, BLUE)
for yy, lab, col in [(0.35, 'd', BLACK), (0.21, 'D-eg', RED), (0.073, 'D-t2g', BLUE)]:
    legend_row(ax, 0.063, yy, 'Fe', lab, col, 0.09, 0.166, 0.172)
updn(ax, 0.893, 0.89, 0.893, 0.11)

ax = L[3]
style(ax, (-1, 1), pdos_ticks, pdos_minor, 7, bottom_labels=True, hide_top=True)
draw(ax, gga_bi_s_up, RED)
draw(ax, gga_bi_s_dn, RED)
draw(ax, gga_bi_p_up, GREEN)
draw(ax, gga_bi_p_dn, GREEN)
legend_row(ax, 0.17, 0.267, 'Bi', 's', RED, 0.197, 0.286, 0.3)
legend_row(ax, 0.17, 0.127, 'Bi', 'p', GREEN, 0.197, 0.286, 0.3)
updn(ax, 0.893, 0.86, 0.893, 0.11)

# ---------- right column : mBJ-GGA ----------
R = [make_axes(693, 1173, 39, 202), make_axes(693, 1173, 202, 368),
     make_axes(693, 1173, 368, 534), make_axes(693, 1173, 534, 697)]

ax = R[0]
style(ax, (-3.89, 4.94), [-2.3, 0, 2.3, 4.6], [-3.45, -1.15, 1.15, 3.45], 3, top_labels=True)
draw(ax, mbj_tot_up, BLACK)
draw(ax, mbj_tot_dn, BLACK)
ax.plot([0.13, 0.24], [0.11, 0.11], transform=ax.transAxes, color=BLACK, lw=1.2)
ax.text(0.25, 0.11, 'Total', transform=ax.transAxes, va='center', fontsize=13.5)
ax.text(0.123, 0.853, 'mBJ-GGA', transform=ax.transAxes, va='center', fontsize=17.5, fontweight='bold',
        family=serif)
ax.text(0.94, 0.853, 'YFeBi', transform=ax.transAxes, va='center', ha='right', fontsize=16.5,
        fontweight='bold', family=serif)
updn(ax, 0.255, 0.56, 0.255, 0.335)

ax = R[1]
style(ax, (-1, 1), pdos_ticks, pdos_minor, 3)
draw(ax, mbj_y_d_up, BLACK)
draw(ax, mbj_y_d_dn, BLACK)
draw(ax, mbj_y_eg_up, RED)
draw(ax, mbj_y_eg_dn, RED)
draw(ax, mbj_y_t2g_up, BLUE)
draw(ax, mbj_y_t2g_dn, BLUE)
for yy, lab, col in [(0.38, 'd', BLACK), (0.245, 'D-eg', RED), (0.11, 'D-t2g', BLUE)]:
    legend_row(ax, 0.044, yy, 'Y', lab, col, 0.062, 0.148, 0.155)
updn(ax, 0.88, 0.87, 0.88, 0.16)

ax = R[2]
style(ax, (-1, 1), pdos_ticks, pdos_minor, 3, hide_top=True)
draw(ax, mbj_fe_d_up, BLACK)
draw(ax, mbj_fe_d_dn, BLACK)
draw(ax, mbj_fe_eg_up, RED)
draw(ax, mbj_fe_eg_dn, RED)
draw(ax, mbj_fe_t2g_up, BLUE)
draw(ax, mbj_fe_t2g_dn, BLUE)
for yy, lab, col in [(0.37, 'd', BLACK), (0.25, 'D-eg', RED), (0.11, 'D-t2g', BLUE)]:
    legend_row(ax, 0.064, yy, 'Fe', lab, col, 0.092, 0.158, 0.165)
updn(ax, 0.88, 0.87, 0.88, 0.14)

ax = R[3]
style(ax, (-1, 1), pdos_ticks, pdos_minor, 3, bottom_labels=True, hide_top=True)
draw(ax, mbj_bi_s_up, GREEN)
draw(ax, mbj_bi_s_dn, GREEN)
draw(ax, mbj_bi_p_up, RED)
draw(ax, mbj_bi_p_dn, RED)
legend_row(ax, 0.168, 0.28, 'Bi', 's', GREEN, 0.193, 0.285, 0.3)
legend_row(ax, 0.168, 0.14, 'Bi', 'p', RED, 0.193, 0.285, 0.3)
updn(ax, 0.88, 0.86, 0.88, 0.15)

# axis titles
fig.text(362 / W, 1 - 733 / H, 'Energie (ev)', ha='center', va='center', fontsize=16, fontweight='bold')
fig.text(925 / W, 1 - 733 / H, 'Energie (ev)', ha='center', va='center', fontsize=16, fontweight='bold')
fig.text(22 / W, 1 - 315 / H, "Densité d'état (état /ev)", rotation=90, ha='center', va='center',
         fontsize=14, fontweight='bold')
fig.text(640 / W, 1 - 320 / H, "Densité d'état (état /ev)", rotation=90, ha='center', va='center',
         fontsize=14, fontweight='bold')

fig.savefig('out.png', dpi=100)
